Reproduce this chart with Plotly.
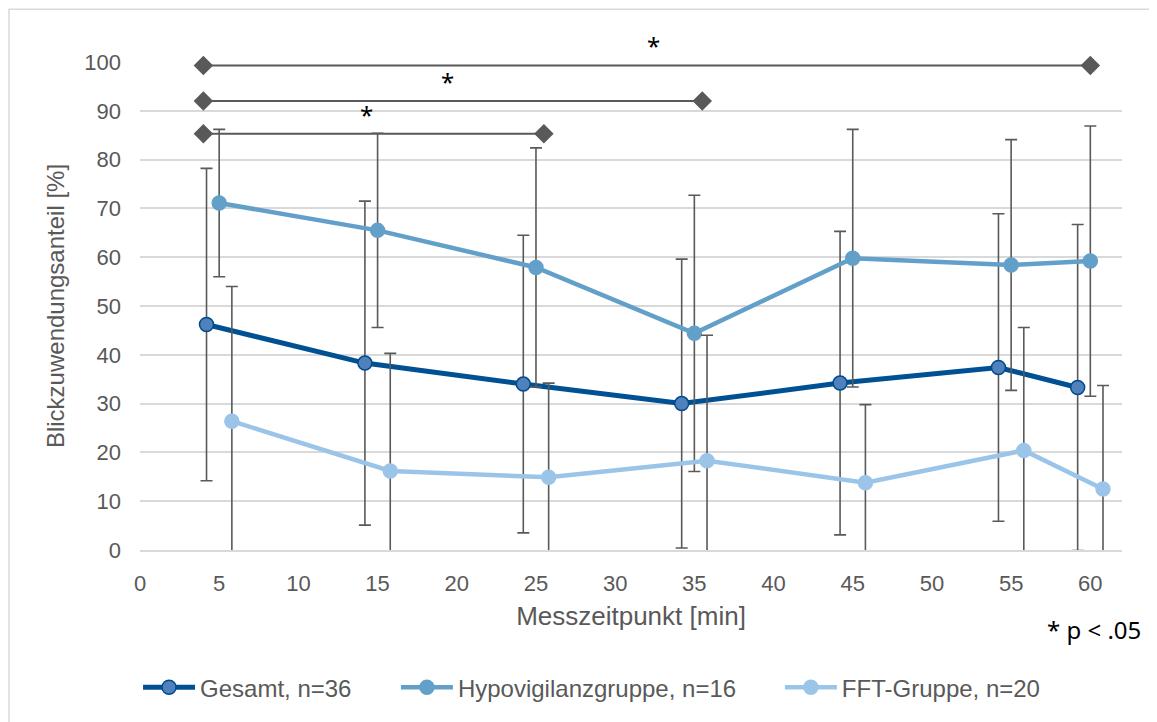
import plotly.graph_objects as go

# ---------------- data ----------------
timepoints = [5, 15, 25, 35, 45, 55, 60]
series_names = ["Gesamt, n=36", "Hypovigilanzgruppe, n=16", "FFT-Gruppe, n=20"]
x_offsets = [-0.8, 0.0, 0.8]   # horizontal dodge per series (minutes)

gesamt_mean = [46.2, 38.3, 34.0, 30.0, 34.2, 37.4, 33.3]
gesamt_sd = [32.0, 33.2, 30.5, 29.6, 31.1, 31.5, 33.4]

hypo_mean = [71.1, 65.5, 57.9, 44.4, 59.8, 58.4, 59.2]
hypo_sd = [15.1, 19.9, 24.5, 28.3, 26.4, 25.7, 27.7]

fft_mean = [26.4, 16.2, 14.9, 18.3, 13.8, 20.4, 12.5]
fft_sd = [27.6, 24.1, 19.3, 25.7, 16.0, 25.2, 21.2]

# significance brackets (start / end time, height) with label
sig_start = [4.0, 4.0, 4.0]
sig_end = [25.5, 35.5, 60.0]
sig_level = [85.3, 92.0, 99.3]
sig_label = ["*", "*", "*"]
sig_label_x = [14.3, 19.4, 32.4]

x_ticks = [0, 5, 10, 15, 20, 25, 30, 35, 40, 45, 50, 55, 60]
y_ticks = [0, 10, 20, 30, 40, 50, 60, 70, 80, 90, 100]

# ---------------- styles ----------------
line_colors = ["#005193", "#62A0CA", "#9BC5E8"]
marker_fill = ["#4F81BD", "#62A0CA", "#9BC5E8"]
marker_line = ["#004A8A", "#62A0CA", "#9BC5E8"]
line_widths = [5, 4.5, 4.5]
legend_x = [-0.002, 0.2606, 0.6516]
grey = "#595959"
font_main = "Liberation Sans, Arial, sans-serif"

means = [gesamt_mean, hypo_mean, fft_mean]
sds = [gesamt_sd, hypo_sd, fft_sd]

W, H = 1149, 714
ML, MR, MT, MB = 132, 35, 54, 169
PW, PH = W - ML - MR, H - MT - MB

fig = go.Figure()

legend_ids = ["legend", "legend2", "legend3"]
for i, name in enumerate(series_names):
    xs = [t + x_offsets[i] for t in timepoints]
    fig.add_trace(go.Scatter(
        x=xs, y=means[i], name=name, mode="lines+markers",
        line=dict(color=line_colors[i], width=line_widths[i]),
        marker=dict(size=14, color=marker_fill[i],
                    line=dict(color=marker_line[i], width=1.5)),
        error_y=dict(type="data", array=sds[i], symmetric=True,
                     color=grey, thickness=1.6, width=6),
        cliponaxis=True, legend=legend_ids[i],
    ))

for s, e, lvl in zip(sig_start, sig_end, sig_level):
    fig.add_trace(go.Scatter(
        x=[s, e], y=[lvl, lvl], mode="lines+markers", showlegend=False,
        line=dict(color=grey, width=2),
        marker=dict(symbol="diamond", size=15, color=grey),
        cliponaxis=False, hoverinfo="skip",
    ))

for lx, lvl, lab in zip(sig_label_x, sig_level, sig_label):
    fig.add_annotation(
        x=lx, y=lvl, text=lab, showarrow=False,
        xref="x", yref="y", yanchor="bottom", yshift=1,
        font=dict(family="Noto Sans, sans-serif", size=24, color="black"),
    )

fig.add_annotation(
    x=0.9715, y=-0.163, xref="paper", yref="paper", text="* p < .05",
    showarrow=False, xanchor="center", yanchor="middle",
    font=dict(family="Noto Sans, sans-serif", size=24, color="black"),
)

# outer chart border
fig.add_shape(type="rect", xref="paper", yref="paper",
              x0=-(ML - 1) / PW, x1=1.2, y0=-0.6, y1=1 + (MT - 1) / PH,
              line=dict(color="#D9D9D9", width=1.5), fillcolor="rgba(0,0,0,0)",
              layer="below")

legend_common = dict(orientation="h", xanchor="left", y=-0.282, yanchor="middle",
                     font=dict(family=font_main, size=24, color=grey), itemwidth=52)

fig.update_layout(
    width=W, height=H,
    margin=dict(l=ML, r=MR, t=MT, b=MB),
    paper_bgcolor="white", plot_bgcolor="white",
    font=dict(family=font_main, color=grey),
    showlegend=True,
    legend=dict(x=legend_x[0], **legend_common),
    legend2=dict(x=legend_x[1], **legend_common),
    legend3=dict(x=legend_x[2], **legend_common),
)

fig.update_xaxes(
    range=[0, 62], tickvals=x_ticks, ticktext=[str(v) for v in x_ticks],
    showgrid=False, zeroline=False, showline=True, linecolor="#D9D9D9", linewidth=1.5,
    ticks="", tickfont=dict(size=22, color=grey, family=font_main),
    ticklabelstandoff=13,
    title=dict(text="Messzeitpunkt [min]", font=dict(size=26, color=grey, family=font_main),
               standoff=12),
)
fig.update_yaxes(
    range=[0, 100], tickvals=y_ticks, ticktext=[str(v) for v in y_ticks],
    showgrid=True, gridcolor="#D9D9D9", gridwidth=1.5, zeroline=False,
    showline=False, ticks="", tickfont=dict(size=22, color=grey, family=font_main),
    ticklabelstandoff=18,
    title=dict(text="Blickzuwendungsanteil [%]", font=dict(size=24, color=grey, family=font_main),
               standoff=12),
)

fig.write_html("out.html")
